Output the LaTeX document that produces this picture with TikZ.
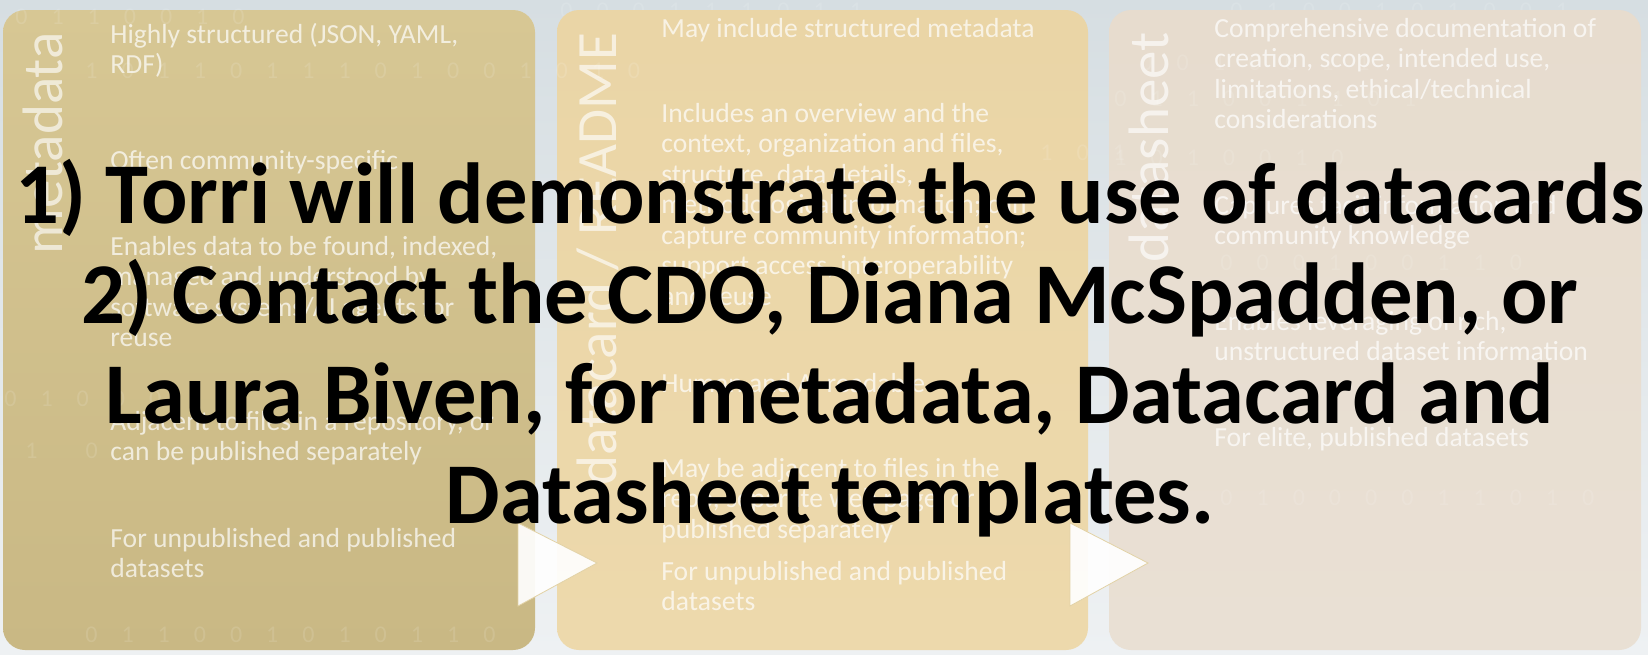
\documentclass[tikz,border=0pt]{standalone}
\usepackage{fontspec}
\setmainfont{Carlito}
\definecolor{bgtop}{HTML}{D6DEE2}
\definecolor{bgbot}{HTML}{EEF1F3}
\definecolor{ponetop}{HTML}{D7C794}
\definecolor{ponebot}{HTML}{C9B884}
\definecolor{ptwotop}{HTML}{EAD5A6}
\definecolor{ptwobot}{HTML}{EDD9AC}
\definecolor{pthreetop}{HTML}{E7DCCE}
\definecolor{pthreebot}{HTML}{E9E0D4}
\definecolor{triedge}{HTML}{E2D2A6}
% one node per line, baselines 30.5 units apart
\newcommand\paralines[4]{%
  \foreach \ln [count=\k] in {#4}
    \node[body] (#1-\k) at (#2, {#3+(\k-1)*30.5}) {\ln};%
}
\begin{document}
\begin{tikzpicture}[x=0.5pt,y=-0.5pt,
  panel/.style={rounded corners=11pt, draw=none},
  body/.style={text=white, text opacity=0.7, font=\fontsize{13.8}{15}\selectfont, anchor=base west, inner sep=0pt},
  vlabel/.style={text=white, text opacity=0.64, font=\fontsize{28.5}{30}\selectfont, rotate=90, anchor=base east, inner sep=0pt},
  bigline/.style={font=\fontsize{43.3}{50}\selectfont\bfseries, text=black, anchor=base, inner sep=0pt},
  arrowtri/.style={fill=white, fill opacity=0.92, draw=triedge, line width=0.4pt},
  bits/.style={text=white, text opacity=0.12, font=\fontsize{12}{12}\selectfont, anchor=base west, inner sep=0pt}
]
% backdrop
\shade[top color=bgtop, bottom color=bgbot] (0,0) rectangle (1648,654);
\useasboundingbox (0,0) rectangle (1648,654);
\node[bits] (bt1) at (560,18) {0\quad0\quad0\quad1\quad1\quad1\quad0\quad1\quad1};
\node[bits] (bt2) at (1230,18) {0\quad1\quad0\quad0\quad1\quad0\quad1\quad0\quad0\quad1};

% the three panels
\shade[panel, top color=ponetop, bottom color=ponebot] (3,10) rectangle (535,650);
\shade[panel, top color=ptwotop, bottom color=ptwobot] (557,10) rectangle (1088,650);
\shade[panel, top color=pthreetop, bottom color=pthreebot] (1109,10) rectangle (1641,650);

% faint binary texture
\node[bits] (b1) at (15,24) {0\quad1\quad1\quad0\quad0\quad1\quad0};
\node[bits] (b2) at (85,78) {1\quad0\quad1\quad1\quad0\quad1\quad1\quad1\quad0\quad1\quad0\quad0\quad1\quad0\quad1\quad0};
\node[bits] (b3) at (4,406) {0\quad1\quad0\quad0\quad0};
\node[bits] (b4) at (25,458) {1\quad\quad0};
\node[bits] (b5) at (85,642) {0\quad1\quad1\quad0\quad0\quad1\quad0\quad1\quad0\quad1\quad1\quad0};
\node[bits] (b6) at (1040,160) {1\quad0\quad1};
\node[bits] (b7) at (1140,70) {0\quad0\quad1\quad0\quad0\quad1\quad1};
\node[bits] (b8) at (1114,106) {0\quad1\quad1\quad0\quad0\quad1\quad1\quad0\quad1};
\node[bits] (b9) at (1114,165) {1\quad0\quad1\quad0\quad0\quad1\quad0};
\node[bits] (b10) at (1220,270) {0\quad0\quad0\quad1\quad0\quad0\quad1\quad1\quad0};
\node[bits] (b11) at (1220,505) {0\quad1\quad0\quad0\quad0\quad0\quad1\quad1\quad0\quad1\quad0};

% vertical titles
\node[vlabel] (t1) at (62,32) {metadata};
\node[vlabel] (t2) at (616,32) {datacard / README};
\node[vlabel] (t3) at (1168,32) {datasheet};

% panel 1 text
\paralines{ma}{110}{43}{{Highly structured (JSON, YAML,}, {RDF)}}
\paralines{mb}{110}{169}{{Often community-specific}}
\paralines{mc}{110}{255}{{Enables data to be found, indexed,}, {managed and understood by}, {software systems/AI agents for}, {reuse}}
\paralines{md}{110}{430}{{Adjacent to files in a repository, or}, {can be published separately}}
\paralines{me}{110}{547}{{For unpublished and published}, {datasets}}

% panel 2 text
\paralines{ra}{661}{37}{{May include structured metadata}}
\paralines{rb}{661}{122}{{Includes an overview and the}, {context, organization and files,}, {structure, data details,}, {methodological information; can}, {capture community information;}, {support access, interoperability}, {and reuse}}
\paralines{rc}{661}{392}{{Human and AI readable}}
\paralines{rd}{661}{477}{{May be adjacent to files in the}, {repo, separate web page, or}, {published separately}}
\paralines{re}{661}{580}{{For unpublished and published}, {datasets}}

% panel 3 text
\paralines{sa}{1214}{37}{{Comprehensive documentation of}, {creation, scope, intended use,}, {limitations, ethical/technical}, {considerations}}
\paralines{sb}{1214}{214}{{Captures tacit information and}, {community knowledge}}
\paralines{sc}{1214}{330}{{Enables leveraging of rich,}, {unstructured dataset information}}
\paralines{sd}{1214}{446}{{For elite, published datasets}}

% arrows between the panels
\draw[arrowtri] (518,523) -- (518,606) -- (597,563) -- cycle;
\draw[arrowtri] (1070,523) -- (1070,606) -- (1148,563) -- cycle;

% overlaid announcement
\node[bigline] (l1) at (830,223) {1) Torri will demonstrate the use of datacards};
\node[bigline] (l2) at (830,323) {2) Contact the CDO, Diana McSpadden, or};
\node[bigline] (l3) at (830,423) {Laura Biven, for metadata, Datacard and};
\node[bigline] (l4) at (830,523) {Datasheet templates.};
\end{tikzpicture}
\end{document}
